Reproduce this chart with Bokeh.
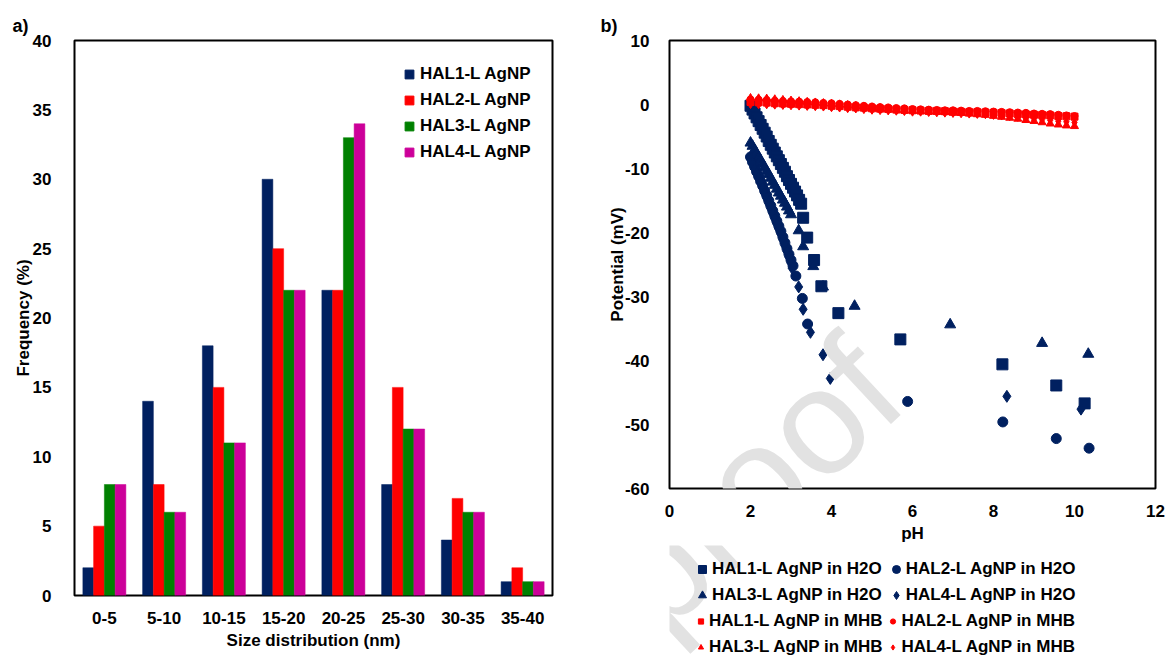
from bokeh.plotting import figure
from bokeh.models import (FactorRange, Range1d, Legend, LegendItem, Label,
                          ColumnDataSource)
from bokeh.transform import dodge
from bokeh.layouts import row, column
from bokeh.embed import file_html
from bokeh.resources import INLINE

# ---------------- data: panel a ----------------
size_bins = ["0-5", "5-10", "10-15", "15-20", "20-25", "25-30", "30-35", "35-40"]
hal1_freq = [2, 14, 18, 30, 22, 8, 4, 1]
hal2_freq = [5, 8, 15, 25, 22, 15, 7, 2]
hal3_freq = [8, 6, 11, 22, 33, 12, 6, 1]
hal4_freq = [8, 6, 11, 22, 34, 12, 6, 1]
bar_names = ["HAL1-L AgNP", "HAL2-L AgNP", "HAL3-L AgNP", "HAL4-L AgNP"]
freq_ticks = [0, 5, 10, 15, 20, 25, 30, 35, 40]

# ---------------- data: panel b ----------------
ph_h1 = [2.00, 2.05, 2.10, 2.15, 2.20, 2.25, 2.30, 2.35, 2.40, 2.45, 2.50, 2.55, 2.60,
         2.65, 2.70, 2.75, 2.80, 2.85, 2.90, 2.95, 3.00, 3.05, 3.10, 3.15, 3.20, 3.25,
         3.30, 3.40, 3.57, 3.75, 4.17, 5.70, 8.22, 9.55, 10.25]
v_h1 = [-0.2, -0.8, -1.4, -2.0, -2.6, -3.2, -3.8, -4.4, -5.0, -5.7, -6.3, -6.9, -7.5,
        -8.1, -8.7, -9.3, -9.9, -10.5, -11.2, -11.8, -12.4, -13.0, -13.6, -14.2, -14.9, -15.5,
        -17.7, -20.8, -24.3, -28.4, -32.6, -36.7, -40.6, -43.9, -46.7]

ph_h2 = [2.00, 2.05, 2.10, 2.15, 2.20, 2.25, 2.30, 2.35, 2.40, 2.45, 2.50, 2.55, 2.60,
         2.65, 2.70, 2.75, 2.80, 2.85, 2.90, 2.95, 3.00, 3.05,
         3.12, 3.28, 3.41, 5.88, 8.23, 9.55, 10.36]
v_h2 = [-8.2, -9.0, -9.7, -10.5, -11.2, -12.0, -12.7, -13.5, -14.2, -15.0, -15.8, -16.6, -17.4,
        -18.2, -19.0, -19.8, -20.7, -21.6, -22.5, -23.4, -24.3, -25.2,
        -26.8, -30.3, -34.3, -46.4, -49.6, -52.2, -53.7]

ph_h3 = [2.00, 2.05, 2.10, 2.15, 2.20, 2.25, 2.30, 2.35, 2.40, 2.45, 2.50, 2.55, 2.60,
         2.65, 2.70, 2.75, 2.80, 2.85, 2.90, 2.95, 3.00,
         3.19, 3.30, 3.55, 3.79, 4.57, 6.93, 9.20, 10.34]
v_h3 = [-6.0, -6.5, -7.1, -7.6, -8.2, -8.7, -9.3, -9.8, -10.4, -10.9, -11.5, -12.1, -12.6,
        -13.2, -13.8, -14.3, -14.9, -15.4, -16.0, -16.6, -17.2,
        -19.7, -22.2, -25.3, -28.5, -31.5, -34.4, -37.3, -39.0]

ph_h4 = [2.00, 2.05, 2.10, 2.15, 2.20, 2.25, 2.30, 2.35, 2.40, 2.45, 2.50, 2.55, 2.60,
         2.65, 2.70, 2.75, 2.80, 2.85, 2.90, 2.95, 3.00,
         3.03, 3.19, 3.30, 3.48, 3.79, 3.97, 4.62, 8.33, 10.16]
v_h4 = [-8.6, -9.3, -10.1, -10.8, -11.6, -12.3, -13.1, -13.9, -14.7, -15.5, -16.3, -17.1, -17.9,
        -18.7, -19.5, -20.3, -21.2, -22.1, -23.0, -23.9, -24.8,
        -25.6, -28.5, -32.0, -35.6, -39.1, -42.8, -42.7, -45.6, -47.6]

ph_mhb = [2.0, 2.2, 2.4, 2.6, 2.8, 3.0, 3.2, 3.4, 3.6, 3.8, 4.0, 4.2, 4.4, 4.6, 4.8,
          5.0, 5.2, 5.4, 5.6, 5.8, 6.0, 6.2, 6.4, 6.6, 6.8, 7.0, 7.2, 7.4, 7.6, 7.8,
          8.0, 8.2, 8.4, 8.6, 8.8, 9.0, 9.2, 9.4, 9.6, 9.8, 10.0]
v_m1 = [0.4, 0.35, 0.3, 0.2, 0.15, 0.1, 0.05, 0.0, -0.05, -0.1, -0.2, -0.25, -0.35, -0.45, -0.5,
        -0.6, -0.65, -0.7, -0.8, -0.85, -0.9, -0.95, -1.0, -1.0, -1.05, -1.1, -1.15, -1.2, -1.2, -1.25,
        -1.3, -1.35, -1.4, -1.5, -1.55, -1.6, -1.65, -1.7, -1.8, -1.85, -1.9]
v_m2 = [0.8, 0.75, 0.7, 0.6, 0.55, 0.5, 0.45, 0.4, 0.35, 0.25, 0.2, 0.1, 0.0, -0.1, -0.2,
        -0.3, -0.4, -0.45, -0.55, -0.6, -0.7, -0.75, -0.8, -0.85, -0.9, -0.9, -0.95, -1.0, -1.0, -1.05,
        -1.1, -1.15, -1.2, -1.25, -1.3, -1.4, -1.45, -1.5, -1.6, -1.7, -1.8]
v_m3 = [1.0, 0.95, 0.9, 0.8, 0.7, 0.6, 0.5, 0.4, 0.3, 0.2, 0.1, 0.0, -0.1, -0.25, -0.35,
        -0.5, -0.6, -0.7, -0.8, -0.9, -1.0, -1.05, -1.1, -1.15, -1.2, -1.3, -1.35, -1.45, -1.55, -1.65,
        -1.8, -1.95, -2.1, -2.25, -2.45, -2.6, -2.8, -3.0, -3.15, -3.3, -3.4]
v_m4 = [0.0, -0.05, -0.05, -0.1, -0.15, -0.2, -0.25, -0.3, -0.35, -0.4, -0.5, -0.55, -0.65, -0.7, -0.8,
        -0.9, -0.95, -1.0, -1.05, -1.1, -1.2, -1.2, -1.25, -1.3, -1.35, -1.4, -1.45, -1.5, -1.55, -1.6,
        -1.7, -1.8, -1.9, -2.0, -2.1, -2.2, -2.35, -2.45, -2.6, -2.7, -2.8]

ph_ticks = [0, 2, 4, 6, 8, 10, 12]
pot_ticks = [-60, -50, -40, -30, -20, -10, 0, 10]
series_names = ["HAL1-L AgNP in H2O", "HAL2-L AgNP in H2O", "HAL3-L AgNP in H2O", "HAL4-L AgNP in H2O",
                "HAL1-L AgNP in MHB", "HAL2-L AgNP in MHB", "HAL3-L AgNP in MHB", "HAL4-L AgNP in MHB"]

# ---------------- styling ----------------
FONT = "Liberation Sans"
NAVY = "#002060"
RED = "#FF0000"
GREEN = "#008000"
MAGENTA = "#CC0099"
WM = "#E2E2E2"
bar_colors = [NAVY, RED, GREEN, MAGENTA]

# layout geometry (page pixels)
L_W, L_H = 580, 652
L_FRAME = (74, 40, 552, 595)          # left, top, right, bottom
R_X0 = 580
R_W, R_H = 588, 545
R_FRAME = (669, 40, 1155, 488)
G_H = 115                              # legend strip under panel b


def style_axes(p):
    for ax in (p.xaxis, p.yaxis):
        ax.major_tick_line_color = None
        ax.minor_tick_line_color = None
        ax.axis_line_color = None
        ax.major_label_text_font = FONT
        ax.major_label_text_font_size = "17px"
        ax.major_label_text_font_style = "bold"
        ax.major_label_text_color = "black"
        ax.axis_label_text_font = FONT
        ax.axis_label_text_font_size = "17px"
        ax.axis_label_text_font_style = "bold"
        ax.axis_label_text_color = "black"
    p.xgrid.grid_line_color = None
    p.ygrid.grid_line_color = None
    p.outline_line_color = "black"
    p.outline_line_width = 2
    p.background_fill_color = "white"
    p.border_fill_color = "white"


def panel_title(p, txt, offset):
    p.title.text = txt
    p.title.text_font = FONT
    p.title.text_font_size = "18px"
    p.title.text_font_style = "bold"
    p.title.text_color = "black"
    p.title.align = "left"
    p.title.offset = offset
    p.title.standoff = 9


def watermark(p, frame_left, frame_bottom):
    WM_X, WM_Y, WM_ANGLE = 876, 366, 0.75
    p.add_layout(Label(x=WM_X - frame_left, y=frame_bottom - WM_Y, x_units="screen", y_units="screen",
                       text="Journal Pre-proof", text_font=FONT, text_font_size="150px",
                       text_color=WM, text_align="right", text_baseline="middle", angle=WM_ANGLE))


legend_style = dict(padding=0, margin=0, border_line_color=None, background_fill_alpha=0,
                    label_text_font=FONT, label_text_font_size="17px", label_text_font_style="bold",
                    label_text_color="black", glyph_height=22, label_height=22, spacing=4)

# ---------------- panel a ----------------
p1 = figure(x_range=FactorRange(*size_bins), y_range=Range1d(0, 40),
            width=L_W, height=L_H, output_backend="svg", toolbar_location=None,
            min_border_left=L_FRAME[0], min_border_right=L_W - L_FRAME[2],
            min_border_top=L_FRAME[1], min_border_bottom=L_H - L_FRAME[3])
style_axes(p1)
panel_title(p1, "a)", -62)
p1.yaxis.ticker = freq_ticks
p1.yaxis.major_label_standoff = 17
p1.yaxis.axis_label = "Frequency (%)"
p1.yaxis.axis_label_standoff = -3
p1.xaxis.axis_label = "Size distribution (nm)"
p1.xaxis.major_label_standoff = 10
p1.xaxis.axis_label_standoff = 4

# a hidden range, used only so that the legend's square keys have data but no visible marks
p1.extra_y_ranges = {"legend_keys": Range1d(100, 200)}

src = ColumnDataSource(dict(bins=size_bins, h1=hal1_freq, h2=hal2_freq, h3=hal3_freq, h4=hal4_freq))
offsets = [-0.27, -0.09, 0.09, 0.27]
keys = []
for key, off, col in zip(["h1", "h2", "h3", "h4"], offsets, bar_colors):
    p1.vbar(x=dodge("bins", off, range=p1.x_range), top=key, width=0.18, source=src,
            fill_color=col, line_color=col, line_width=0.5)
    keys.append(p1.scatter(x=dodge("bins", off, range=p1.x_range), y=key, source=src,
                           y_range_name="legend_keys", marker="square",
                           fill_color=col, line_color=col))

leg1 = Legend(items=[LegendItem(label=n, renderers=[r]) for n, r in zip(bar_names, keys)],
              location=(324, 432), glyph_width=22, label_standoff=-2, **legend_style)
p1.add_layout(leg1)

# ---------------- panel b ----------------
p2 = figure(x_range=Range1d(0, 12), y_range=Range1d(-60, 10),
            width=R_W, height=R_H, output_backend="svg", toolbar_location=None,
            min_border_left=R_FRAME[0] - R_X0, min_border_right=R_X0 + R_W - R_FRAME[2],
            min_border_top=R_FRAME[1], min_border_bottom=R_H - R_FRAME[3])
style_axes(p2)
panel_title(p2, "b)", -69)
p2.xaxis.ticker = ph_ticks
p2.yaxis.ticker = pot_ticks
p2.yaxis.major_label_overrides = {t: str(t) for t in pot_ticks}
p2.yaxis.major_label_standoff = 14
p2.yaxis.axis_label = "Potential (mV)"
p2.yaxis.axis_label_standoff = -5
p2.xaxis.axis_label = "pH"
p2.xaxis.major_label_standoff = 10
p2.xaxis.axis_label_standoff = 4

series = [
    (ph_h1, v_h1, "square", 11, NAVY),
    (ph_h2, v_h2, "circle", 10, NAVY),
    (ph_h3, v_h3, "triangle", 11, NAVY),
    (ph_h4, v_h4, "diamond", 12, NAVY),
    (ph_mhb, v_m1, "square", 7, RED),
    (ph_mhb, v_m2, "circle", 7, RED),
    (ph_mhb, v_m3, "triangle", 8, RED),
    (ph_mhb, v_m4, "diamond", 8, RED),
]
for xs, ys, mk, sz, col in series:
    p2.scatter(xs, ys, marker=mk, size=sz, fill_color=col, line_color=col)
watermark(p2, R_FRAME[0], R_FRAME[3])

# ---------------- legend strip under panel b ----------------
g = figure(x_range=Range1d(-2, -1), y_range=Range1d(-2, -1), width=R_W, height=G_H,
           output_backend="svg", toolbar_location=None, x_axis_type=None, y_axis_type=None,
           min_border_left=R_FRAME[0] - R_X0, min_border_right=R_X0 + R_W - R_FRAME[2],
           min_border_top=0, min_border_bottom=0)
g.outline_line_color = None
g.xgrid.grid_line_color = None
g.ygrid.grid_line_color = None
g.background_fill_color = "white"
g.border_fill_color = "white"

# legend keys: the same series, drawn outside this strip's (empty) view so only the keys show
key_r = [g.scatter(xs, ys, marker=mk, size=sz, fill_color=col, line_color=col)
         for xs, ys, mk, sz, col in series]

legA = Legend(items=[LegendItem(label=series_names[i], renderers=[key_r[i]]) for i in range(4)],
              location=(23, 54), orientation="horizontal", ncols=2, glyph_width=20,
              label_standoff=-1, **legend_style)
legB = Legend(items=[LegendItem(label=series_names[i], renderers=[key_r[i]]) for i in range(4, 8)],
              location=(25, 2), orientation="horizontal", ncols=2, glyph_width=13,
              label_standoff=2, **legend_style)
g.add_layout(legA)
g.add_layout(legB)
watermark(g, R_FRAME[0], R_H + G_H)

layout = row(p1, column(p2, g))
open("out.html", "w").write(file_html(layout, INLINE))
